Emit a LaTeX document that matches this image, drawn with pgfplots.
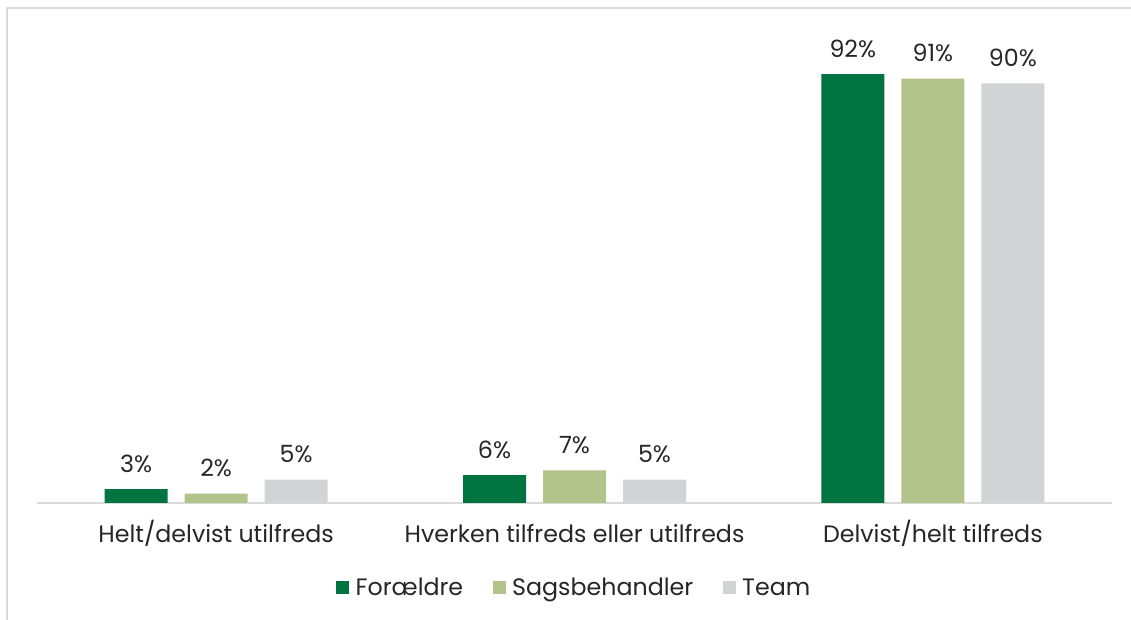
\documentclass[border=0pt]{standalone}
\usepackage{pgfplots}
\pgfplotsset{compat=1.18}
\usepackage{fontspec}
\setmainfont{Poppins}
\definecolor{cF}{HTML}{007440}
\definecolor{cS}{HTML}{B3C48B}
\definecolor{cT}{HTML}{D2D3D5}
\definecolor{frame}{HTML}{D9D9D9}
\definecolor{txt}{HTML}{262626}
\begin{document}
\begin{tikzpicture}
\useasboundingbox (-27.75pt,-87.75pt) rectangle (820.5pt,377.25pt);
\draw[frame, line width=1.5pt] (-22.125pt,-100pt) -- (-22.125pt,371.6pt) -- (830pt,371.6pt);
\begin{axis}[
  at={(0pt,0pt)}, anchor=south west,
  scale only axis,
  width=806.25pt, height=349.7pt,
  xmin=-0.5, xmax=2.5, ymin=0, ymax=100,
  ybar=12.75pt, bar width=47.25pt,
  axis x line*=bottom, axis y line=none,
  x axis line style={frame, line width=1.5pt, -},
  xtick={0,1,2},
  xticklabels={Helt/delvist utilfreds, Hverken tilfreds eller utilfreds, Delvist/helt tilfreds},
  major tick length=0pt,
  /pgf/number format/assume math mode=true,
  xticklabel style={font=\fontsize{17.8pt}{20pt}\selectfont, text=txt, inner sep=0pt, anchor=base, yshift=-30pt},
  ytick=\empty,
  nodes near coords={\pgfmathprintnumber{\pgfplotspointmeta}\%},
  every node near coord/.append style={font=\fontsize{17.8pt}{20pt}\selectfont, text=txt, inner sep=0pt, anchor=base, yshift=12.75pt},
  legend style={at={(0.5,0)}, anchor=center, yshift=-63.75pt, draw=none, legend columns=3,
    font=\fontsize{17.8pt}{20pt}\selectfont, text=txt,
    /tikz/every even column/.append style={column sep=20pt}},
  legend image code/.code={\fill[#1] (0pt,-4.875pt) rectangle (9.75pt,4.875pt); \path (12.75pt,0pt);},
  clip=false,
]
\addplot[fill=cF, draw=none] coordinates {(0,3) (1,6) (2,92)};
\addplot[fill=cS, draw=none] coordinates {(0,2) (1,7) (2,91)};
\addplot[fill=cT, draw=none] coordinates {(0,5) (1,5) (2,90)};
\legend{Forældre, Sagsbehandler, Team}
\end{axis}
\end{tikzpicture}
\end{document}
